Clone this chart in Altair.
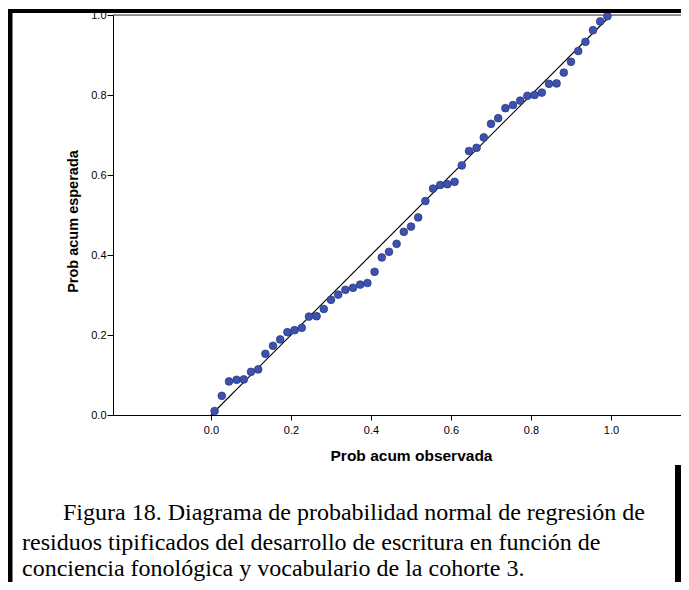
import altair as alt
import pandas as pd

# Observed cumulative probability (x) and expected cumulative probability (y)
obs = [0.009, 0.027, 0.045, 0.064, 0.082, 0.100, 0.118, 0.136, 0.155, 0.173,
       0.191, 0.209, 0.227, 0.245, 0.264, 0.282, 0.300, 0.318, 0.336, 0.355,
       0.373, 0.391, 0.409, 0.427, 0.445, 0.464, 0.482, 0.500, 0.518, 0.536,
       0.555, 0.573, 0.591, 0.609, 0.627, 0.645, 0.664, 0.682, 0.700, 0.718,
       0.736, 0.755, 0.773, 0.791, 0.809, 0.827, 0.845, 0.864, 0.882, 0.900,
       0.918, 0.936, 0.955, 0.973, 0.991]
esp = [0.010, 0.048, 0.084, 0.088, 0.089, 0.108, 0.114, 0.153, 0.173, 0.189,
       0.207, 0.212, 0.218, 0.246, 0.247, 0.265, 0.288, 0.301, 0.313, 0.318,
       0.326, 0.330, 0.358, 0.394, 0.408, 0.428, 0.458, 0.471, 0.494, 0.535,
       0.566, 0.575, 0.577, 0.583, 0.624, 0.660, 0.668, 0.694, 0.728, 0.742,
       0.767, 0.775, 0.786, 0.798, 0.800, 0.806, 0.828, 0.829, 0.856, 0.883,
       0.910, 0.933, 0.962, 0.984, 0.997]
diag = [0.0, 1.0]
ticks = [0.0, 0.2, 0.4, 0.6, 0.8, 1.0]
caption = [
    "Figura 18. Diagrama de probabilidad normal de regresión de",
    "residuos tipificados del desarrollo de escritura en función de",
    "conciencia fonológica y vocabulario de la cohorte 3.",
]

pts = pd.DataFrame({"obs": obs, "esp": esp})
line_df = pd.DataFrame({"obs": diag, "esp": diag})
one = alt.Data(values=[{"k": 1}])

PW = 568  # plot width (px)
xscale = alt.Scale(domain=[-0.245, 1.175], nice=False, zero=False)
yscale = alt.Scale(domain=[0, 1], nice=False, zero=False)

xaxis = alt.Axis(values=ticks, format=".1f", title="Prob acum observada",
                 grid=False, domainColor="black", tickColor="black",
                 tickSize=5, labelFont="Liberation Sans", labelFontSize=11,
                 labelColor="black", labelPadding=4, titleFont="Liberation Sans",
                 titleFontSize=15.5, titleFontWeight="bold", titleColor="black",
                 titleX=298, titleY=40, titleBaseline="middle", titleAlign="center")
yaxis = alt.Axis(values=ticks, format=".1f", title="Prob acum esperada",
                 grid=False, domainColor="black", tickColor="black",
                 tickSize=6, labelFont="Liberation Sans", labelFontSize=11,
                 labelColor="black", labelPadding=1, titleFont="Liberation Sans",
                 titleFontSize=14.5, titleFontWeight="bold", titleColor="black",
                 titleX=-40, titleY=206, titleBaseline="middle", titleAlign="center",
                 titleAngle=270)

points = alt.Chart(pts).mark_circle(
    size=60, color="#3D51AE", opacity=1, stroke="#27337C", strokeWidth=0.7
).encode(
    x=alt.X("obs:Q", scale=xscale, axis=xaxis),
    y=alt.Y("esp:Q", scale=yscale, axis=yaxis),
)

diag_line = alt.Chart(line_df).mark_line(color="black", strokeWidth=1.2).encode(
    x=alt.X("obs:Q", scale=xscale),
    y=alt.Y("esp:Q", scale=yscale),
)

def rule(x, x2, y, y2, w, color="black"):
    return alt.Chart(one).mark_rule(color=color, strokeWidth=w).encode(
        x=alt.value(x), x2=alt.value(x2), y=alt.value(y), y2=alt.value(y2))

top_thin = rule(0, PW, 0, 0, 1, "#333333")
top_thick = rule(-105, PW, -4, -4, 4)
left_thick = rule(-103, -103, -6, 575, 5)
right_thick = rule(PW - 3, PW - 3, 450, 575, 6)

cap_x = [-50, -91, -91]
cap_y = [505, 535, 561]
cap_layers = []
for txt, cx, cy in zip(caption, cap_x, cap_y):
    cap_layers.append(
        alt.Chart(one).mark_text(
            align="left", baseline="alphabetic", font="Liberation Serif",
            fontSize=24, color="black"
        ).encode(x=alt.value(cx), y=alt.value(cy), text=alt.value(txt))
    )

chart = alt.layer(
    top_thin, diag_line, points, top_thick, left_thick, right_thick, *cap_layers
).properties(
    width=PW, height=400,
    autosize=alt.AutoSizeParams(type="none"),
    padding={"left": 105, "top": 7, "right": 0, "bottom": 167},
).configure_view(stroke=None).configure(background="white")

chart.save("out.html", embed_options={"renderer": "svg", "actions": False})
